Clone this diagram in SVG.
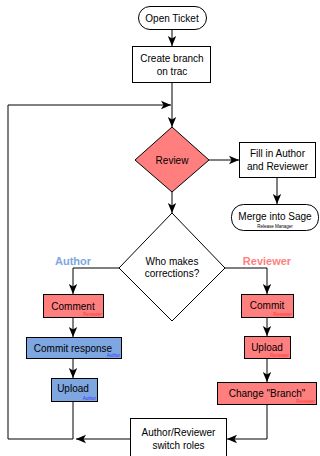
<svg xmlns="http://www.w3.org/2000/svg" width="320" height="456" viewBox="0 0 320 456">
<defs>
<style>
.b{stroke:#000;stroke-width:1}
.w{fill:#fff}
.r{fill:#FF7F7F}
.u{fill:#7EA6E0}
.t{font-family:"Liberation Sans",Arial,sans-serif;font-size:10px;fill:#000;text-anchor:middle}
.s{font-family:"Liberation Sans",Arial,sans-serif;font-size:4.5px;text-anchor:end}
.sr{fill:#FF3333}
.sb{fill:#3333FF}
.lbl{font-family:"Liberation Sans",Arial,sans-serif;font-size:11px;font-weight:bold;text-anchor:middle}
.c{fill:none;stroke:#000;stroke-width:1}
</style>
<marker id="a" viewBox="0 0 10 10" refX="10" refY="5" markerWidth="10" markerHeight="10" markerUnits="userSpaceOnUse" orient="auto">
<path d="M0,0.8 L10,5 L0,9.2 L2.5,5 z" fill="#000"/>
</marker>
</defs>
<rect width="320" height="456" fill="#fff"/>
<g id="connectors">
<path class="c" d="M172,29 V46" marker-end="url(#a)"/>
<path class="c" d="M172,83 V127" marker-end="url(#a)"/>
<path class="c" d="M73,401 V439 H8 V105 H171" marker-end="url(#a)"/>
<path class="c" d="M130,439 H76" marker-end="url(#a)"/>
<path class="c" d="M209,160 H239" marker-end="url(#a)"/>
<path class="c" d="M277,177 V204" marker-end="url(#a)"/>
<path class="c" d="M172,192 V213" marker-end="url(#a)"/>
<path class="c" d="M119,268 H73 V294" marker-end="url(#a)"/>
<path class="c" d="M225,268 H267 V294" marker-end="url(#a)"/>
<path class="c" d="M73,317 V337" marker-end="url(#a)"/>
<path class="c" d="M73,358 V378" marker-end="url(#a)"/>
<path class="c" d="M267,317 V336" marker-end="url(#a)"/>
<path class="c" d="M267,358 V382" marker-end="url(#a)"/>
<path class="c" d="M267,404 V439 H227" marker-end="url(#a)"/>
</g>
<g id="open-ticket">
<rect class="b w" x="138.5" y="6.5" width="68" height="23" rx="11.5"/>
<text class="t" x="172" y="21.5">Open Ticket</text>
</g>
<g id="create-branch">
<rect class="b w" x="132.5" y="46.5" width="78" height="36"/>
<text class="t" x="172" y="62">Create branch</text>
<text class="t" x="172" y="75">on trac</text>
</g>
<g id="review">
<path class="b r" d="M172,127 L209,160 L172,192 L135,160 z"/>
<text class="t" x="172" y="163.5">Review</text>
</g>
<g id="fill-in">
<rect class="b w" x="239.5" y="142.5" width="76" height="35"/>
<text class="t" x="277.5" y="157">Fill in Author</text>
<text class="t" x="277.5" y="169.5">and Reviewer</text>
</g>
<g id="merge">
<rect class="b w" x="231.5" y="204.5" width="87" height="26" rx="12"/>
<text class="t" x="275" y="220">Merge into Sage</text>
<text class="t" x="275" y="228" style="font-size:4.5px">Release Manager</text>
</g>
<g id="who">
<path class="b w" d="M172,213 L225,268 L172,321 L119,268 z"/>
<text class="t" x="172" y="265">Who makes</text>
<text class="t" x="172" y="277">corrections?</text>
</g>
<text class="lbl" x="73" y="265" fill="#7EA6E0">Author</text>
<text class="lbl" x="267" y="265" fill="#FF7F7F">Reviewer</text>
<g id="comment">
<rect class="b r" x="43.5" y="294.5" width="60" height="23"/>
<text class="t" x="73" y="309.5">Comment</text>
<text class="s sr" x="102" y="316">Reviewer</text>
</g>
<g id="commit-response">
<rect class="b u" x="26.5" y="337.5" width="95" height="21"/>
<text class="t" x="73" y="351.5">Commit response</text>
<text class="s sb" x="120" y="357">Author</text>
</g>
<g id="upload-author">
<rect class="b u" x="51.5" y="378.5" width="46" height="23"/>
<text class="t" x="73" y="391.5">Upload</text>
<text class="s sb" x="96" y="400">Author</text>
</g>
<g id="commit">
<rect class="b r" x="241.5" y="294.5" width="52" height="23"/>
<text class="t" x="267" y="309">Commit</text>
<text class="s sr" x="292" y="316">Reviewer</text>
</g>
<g id="upload-reviewer">
<rect class="b r" x="244.5" y="336.5" width="46" height="22"/>
<text class="t" x="267" y="351">Upload</text>
<text class="s sr" x="289" y="357">Reviewer</text>
</g>
<g id="change-branch">
<rect class="b r" x="217.5" y="382.5" width="99" height="22"/>
<text class="t" x="267" y="397">Change "Branch"</text>
<text class="s sr" x="315" y="403">Reviewer</text>
</g>
<g id="switch-roles">
<rect class="b w" x="130.5" y="418.5" width="96" height="38"/>
<text class="t" x="178.5" y="436">Author/Reviewer</text>
<text class="t" x="178.5" y="448.5">switch roles</text>
</g>
</svg>
